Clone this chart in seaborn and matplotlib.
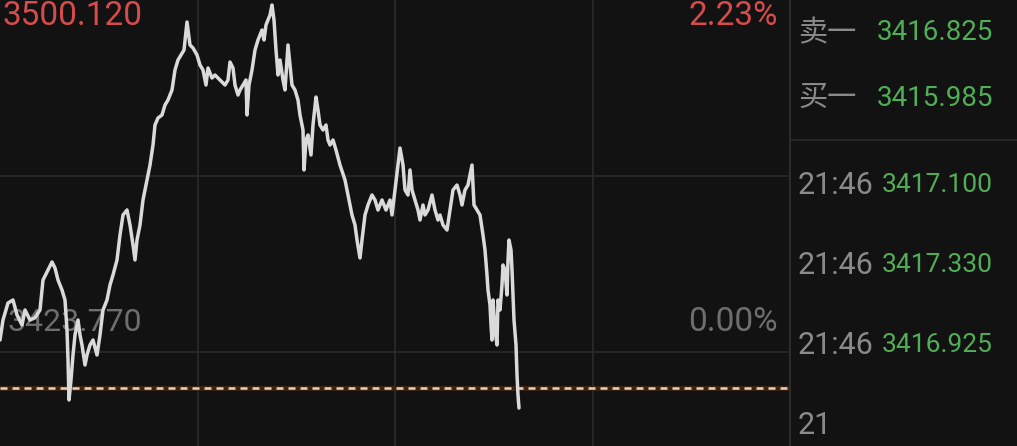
import numpy as np
import pandas as pd
import seaborn as sns
import matplotlib.pyplot as plt
from matplotlib.lines import Line2D

t = [0, 1.5, 4, 6.5, 8.5, 11, 12.5, 15, 17.5, 20, 21.5, 23.5, 26, 27.5, 29, 31, 32.5,
     33.5, 34, 34.5, 35.5, 36.5, 37.5, 39, 40, 41, 42.5, 43.5, 45, 46.5, 48.5, 50,
     51.5, 53.5, 55, 56.5, 58.5, 60, 61.5, 63.5, 65, 66.5, 67.5, 68.5, 70, 71.5,
     73.5, 75, 76.5, 77.5, 79, 81, 82.5, 84, 86, 87.5, 89, 90.5, 92, 93.5, 95,
     96.5, 98.5, 100, 101.5, 103, 104, 106, 107.5, 110, 112.5, 114, 115, 116.5,
     117.5, 119, 120, 121.5, 123, 123.5, 124.5, 126, 127.5, 129, 131, 132, 133,
     135, 136, 137, 138, 139, 140, 141.5, 142.5, 144, 145, 146, 147.5, 149, 150,
     151.5, 152, 153, 154, 155.5, 156.5, 158, 159, 160, 161.5, 163, 164, 165,
     166.5, 168, 170, 172.5, 174, 176, 177.5, 178.5, 180, 181, 182.5, 184, 186,
     187.5, 189, 191, 193, 195, 196, 197.5, 199, 200, 201.5, 202.5, 204, 205,
     206, 207.5, 209, 210, 211.5, 212.5, 214, 216, 217.5, 219, 220, 221.5, 223.5,
     225, 226.5, 228.5, 230, 231, 232.5, 234, 235, 236, 237, 238.5, 240, 241.5,
     242.5, 243.5, 244, 245, 245.5, 246, 246.5, 247.5, 248.5, 249, 250, 251,
     251.5, 252.5, 253.5, 254, 254.5, 255.5, 256, 256.5, 257, 258, 258.5, 259,
     259.5]
prix = [3426.37, 3430.71, 3434.40, 3435.05, 3431.80, 3429.63, 3432.88, 3430.71,
        3431.20, 3432.88, 3439.39, 3441.12, 3443.29, 3441.99, 3439.39, 3437.22,
        3435.05, 3428.54, 3422.04, 3413.36, 3417.70, 3423.12, 3427.46, 3430.71,
        3427.46, 3425.29, 3420.95, 3423.12, 3425.29, 3426.37, 3423.12, 3427.46,
        3432.88, 3435.05, 3438.30, 3440.47, 3443.73, 3449.15, 3453.49, 3454.57,
        3451.32, 3446.98, 3443.73, 3448.06, 3451.32, 3456.74, 3461.08, 3464.33,
        3468.67, 3473.01, 3474.53, 3475.18, 3477.35, 3478.43, 3480.60, 3484.94,
        3487.11, 3488.19, 3489.27, 3495.35, 3490.36, 3489.71, 3488.19, 3486.02,
        3484.94, 3481.68, 3485.37, 3483.20, 3483.85, 3482.77, 3481.68, 3482.77,
        3486.67, 3485.37, 3481.68, 3479.51, 3480.60, 3481.68, 3482.77, 3475.18,
        3481.68, 3484.94, 3489.27, 3491.44, 3493.61, 3491.44, 3494.70, 3496.87,
        3499.04, 3495.78, 3489.27, 3483.85, 3487.11, 3482.77, 3480.60, 3490.36,
        3486.02, 3481.68, 3480.60, 3478.43, 3475.18, 3471.92, 3463.25, 3469.75,
        3470.84, 3466.50, 3473.01, 3479.08, 3476.26, 3473.01, 3471.92, 3473.01,
        3469.75, 3468.67, 3469.75, 3467.58, 3464.33, 3461.08, 3457.82, 3453.49,
        3451.32, 3448.06, 3444.16, 3448.06, 3453.49, 3455.66, 3457.82, 3456.74,
        3454.57, 3456.74, 3454.57, 3456.74, 3453.49, 3458.91, 3464.33, 3468.02,
        3464.33, 3458.91, 3457.82, 3463.25, 3458.91, 3456.74, 3454.57, 3452.40,
        3455.66, 3453.49, 3454.57, 3457.82, 3454.57, 3452.40, 3453.49, 3451.32,
        3450.23, 3454.57, 3458.91, 3459.99, 3457.82, 3455.66, 3458.91, 3459.99,
        3462.16, 3464.33, 3455.66, 3454.57, 3453.49, 3449.15, 3445.89, 3440.47,
        3437.22, 3433.97, 3429.63, 3426.37, 3435.05, 3428.54, 3425.29, 3435.05,
        3432.88, 3438.30, 3442.64, 3441.56, 3436.13, 3443.73, 3448.06, 3445.89,
        3441.56, 3436.13, 3430.71, 3425.29, 3418.78, 3414.44, 3411.62]

prix_haut = 3500.120
cloture_veille = 3423.770
prix_ligne = 3415.985
session = 395

panneau_labels = ["卖一", "买一", "21:46", "21:46", "21:46", "21"]
panneau_valeurs = ["3416.825", "3415.985", "3417.100", "3417.330", "3416.925", ""]

df = pd.DataFrame({"t": t, "prix": prix})

W, H = 1017, 446
fond = "#121212"
sns.set_theme(style="dark", rc={"figure.facecolor": fond, "axes.facecolor": fond})
plt.rcParams["font.family"] = ["Roboto", "Noto Sans CJK SC", "DejaVu Sans"]

fig = plt.figure(figsize=(W / 100, H / 100), dpi=100)
ax = fig.add_axes([0, 0, 790 / W, 1])

# grille
grille = "#2b2b2b"
for q in [0.25, 0.5, 0.75]:
    ax.axvline(session * q, color=grille, lw=1.2, zorder=0)
for yv in [cloture_veille, (prix_haut + cloture_veille) / 2]:
    ax.axhline(yv, color=grille, lw=1.2, zorder=0)

# ligne pointillée
ax.axhline(prix_ligne, color="#3a2414", lw=3.5, zorder=1)
ax.axhline(prix_ligne, color="#ecd2bb", lw=1.8, dashes=(2.8, 2.0), zorder=2)

ax.text(0.01, 0.278, "3423.770", transform=ax.transAxes, color="#6e6e6e",
        fontsize=23, va="center", ha="left", zorder=1)
ax.text(0.985, 0.278, "0.00%", transform=ax.transAxes, color="#6e6e6e",
        fontsize=24, va="center", ha="right", zorder=1)

sns.lineplot(data=df, x="t", y="prix", ax=ax, color="#dadada", lw=2.5, zorder=3)

ax.text(0.003, 1.0, "3500.120", transform=ax.transAxes, color="#d64b4b",
        fontsize=24, va="top", ha="left", zorder=4)
ax.text(0.985, 1.0, "2.23%", transform=ax.transAxes, color="#d64b4b",
        fontsize=24, va="top", ha="right", zorder=4)

bas = cloture_veille - (prix_haut - cloture_veille) * (H - 352) / 352
ax.set_ylim(bas, prix_haut)
ax.set_xlim(0, session)
ax.set_xticks([])
ax.set_yticks([])
ax.set_xlabel("")
ax.set_ylabel("")
for s in ax.spines.values():
    s.set_visible(False)

# panneau de droite
fig.add_artist(Line2D([790 / W, 790 / W], [0, 1], color=grille, lw=1.5))
fig.add_artist(Line2D([790 / W, 1], [1 - 140 / H, 1 - 140 / H], color=grille, lw=1.2))

ys = [33, 98, 185, 265, 345, 425]
for i, (lab, val) in enumerate(zip(panneau_labels, panneau_valeurs)):
    yy = 1 - ys[i] / H
    fig.text(798 / W, yy, lab, color="#8a8a8a", fontsize=21 if i < 2 else 22,
             va="center", ha="left")
    if val:
        fig.text(993 / W, yy, val, color="#4fae56", fontsize=20 if i < 2 else 19,
                 va="center", ha="right")

fig.savefig("out.png", dpi=100, facecolor=fond)
